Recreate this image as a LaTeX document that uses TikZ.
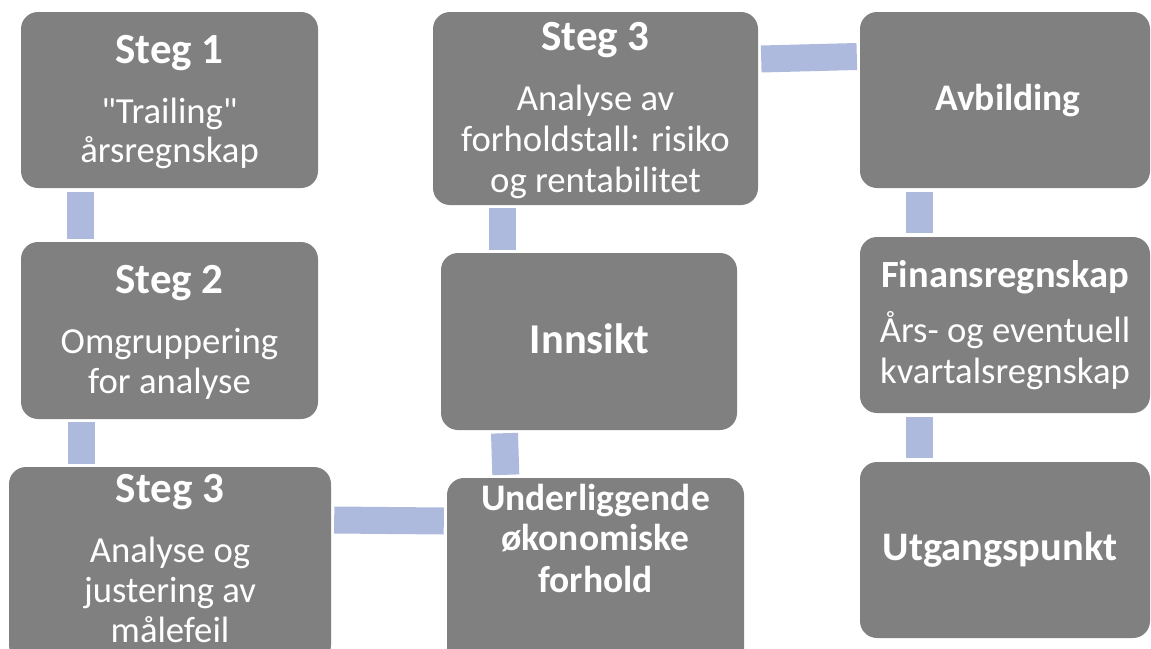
\documentclass[tikz,border=0pt]{standalone}
\usepackage{fontspec}
\setmainfont{Carlito}[Ligatures=TeXOff]
\usetikzlibrary{calc}
\definecolor{boxgray}{HTML}{808080}
\definecolor{linkblue}{HTML}{ADBADE}
\tikzset{
  card/.style={draw=none, fill=boxgray, rounded corners=17pt, inner sep=0pt},
  link/.style={draw=linkblue, line width=27pt, line cap=butt},
  head/.style={text=white, anchor=base, inner sep=0pt, font=\bfseries\fontsize{43}{48}\selectfont},
  headsmall/.style={head, font=\bfseries\fontsize{37.5}{44}\selectfont},
  txt/.style={text=white, anchor=base, inner sep=0pt, font=\fontsize{36.7}{42}\selectfont},
}
\newcommand{\card}[5]{%
  \node[card, minimum width=#4-#2, minimum height=#5-#3] (#1) at ({(#2+#4)/2},{(#3+#5)/2}) {};}
\begin{document}
\begin{tikzpicture}[x=1pt, y=-1pt]
\useasboundingbox (0,0) rectangle (1151,648);
\clip (0,0) rectangle (1151,648);

% boxes: name, left, top, right, bottom
\card{s1}{21}{12}{318}{188}
\card{s2}{21}{242}{318}{419}
\card{s3a}{9}{467}{331}{662}
\card{und}{447}{478}{744}{668}
\card{inn}{441}{253}{737}{430}
\card{s3b}{433}{12}{758}{205}
\card{avb}{860}{12}{1150}{188}
\card{fin}{860}{237}{1150}{413}
\card{utg}{860}{462}{1150}{638}

% links between the boxes
\draw[link] ($(s1.south west)+(60,4)$) -- ($(s2.north west)+(60,-3)$);
\draw[link] ($(s2.south west)+(60.5,3)$) -- ($(s3a.north west)+(72.5,-3)$);
\draw[link] ($(s3a.east)+(3,520-564.5)$) -- ($(und.west)+(-3,521-573)$);
\draw[link] ($(und.north west)+(59,-3)$) -- ($(inn.south west)+(63.7,3)$);
\draw[link] ($(inn.north west)+(61.5,-3)$) -- ($(s3b.south west)+(69.5,3)$);
\draw[link] ($(s3b.east)+(3,59-108.5)$) -- ($(avb.west)+(-3,56.5-100)$);
\draw[link] ($(avb.south west)+(59.5,4)$) -- ($(fin.north west)+(59.5,-4)$);
\draw[link] ($(fin.south west)+(59.5,4)$) -- ($(utg.north west)+(59.5,-4)$);

% texts
\node[head] (s1h) at (169.5,63) {Steg 1};
\node[txt] (s1a) at (169.5,123) {"Trailing"};
\node[txt] (s1b) at (169.5,162) {årsregnskap};

\node[head] (s2h) at (169.5,293) {Steg 2};
\node[txt] (s2a) at (169.5,353) {Omgruppering};
\node[txt] (s2b) at (169.5,393) {for analyse};

\node[head] (s3ah) at (170,502) {Steg 3};
\node[txt] (s3aa) at (170,562) {Analyse og};
\node[txt] (s3ab) at (170,602) {justering av};
\node[txt] (s3ac) at (170,642) {målefeil};

\node[head] (s3bh) at (595.5,50) {Steg 3};
\node[txt] (s3ba) at (595.5,110) {Analyse av};
\node[txt] (s3bb) at (595.5,151) {forholdstall: risiko};
\node[txt] (s3bc) at (595.5,192) {og rentabilitet};

\node[head, font=\bfseries\fontsize{42.5}{48}\selectfont] (innh) at (589.5,353) {Innsikt};

\node[headsmall] (unda) at (595.5,510) {Underliggende};
\node[headsmall] (undb) at (595.5,550) {økonomiske};
\node[headsmall] (undc) at (595.5,592) {forhold};

\node[headsmall] (avbh) at (1008,110) {Avbilding};

\node[headsmall, font=\bfseries\fontsize{38.5}{44}\selectfont] (finh) at (1005,287) {Finansregnskap};
\node[txt] (fina) at (1005,342) {Års- og eventuell};
\node[txt] (finb) at (1005,383) {kvartalsregnskap};

\node[headsmall, font=\bfseries\fontsize{40.5}{46}\selectfont] (utgh) at (1000,560) {Utgangspunkt};
\end{tikzpicture}
\end{document}
